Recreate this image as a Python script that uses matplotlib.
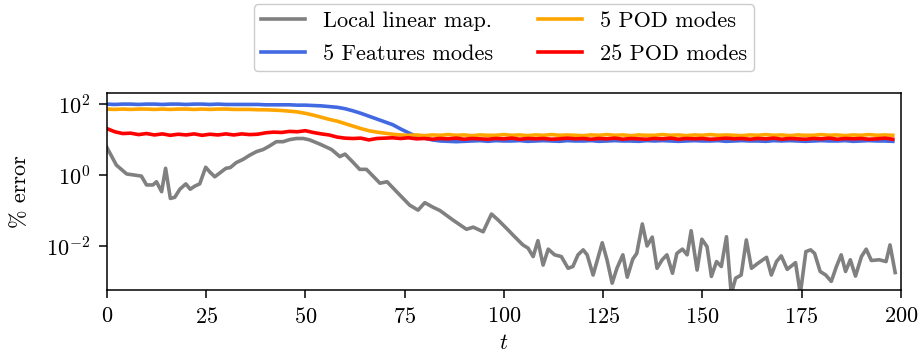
import matplotlib
matplotlib.use('Agg')
import matplotlib.pyplot as plt
import numpy as np

plt.rcParams['font.family'] = 'cmr10'
plt.rcParams['mathtext.fontset'] = 'cm'
plt.rcParams['axes.formatter.use_mathtext'] = True
plt.rcParams['font.size'] = 16
plt.rcParams['axes.linewidth'] = 1.1

#_______________________________________________________________________________
# local linear map as (t, log10 % error)
t_local = [0, 2.4, 5, 8.7, 10, 11.6, 12.5, 13.8, 14.8, 16, 17.1, 18.4, 19.9, 21,
           22.2, 23.4, 24.9, 25.9, 27.2, 28.5, 30, 31.1, 32.6, 34.3, 36, 37.7,
           39.4, 41, 42.7, 44.4, 46.1, 47.8, 49.5, 51.1, 53.7, 56.6, 58.7, 60,
           62.1, 63.7, 65.4, 68.8, 70.6, 73, 76.3, 78.4, 80.1, 82.2, 83.9, 87.2,
           90.6, 92.3, 94.8, 96.9, 98.6, 101.1, 102.3, 104.8, 106.1, 107.4, 108.6,
           109.9, 111.2, 112.8, 114.5, 116.2, 117.4, 118.7, 120, 121, 122.5, 124.8,
           126, 127.3, 128.5, 130, 131.1, 132.5, 133.5, 134.9, 136.1, 137.4, 138.6,
           139.9, 141.1, 142.5, 143.6, 145, 146.2, 147.2, 148.7, 149.9, 151.2,
           152.3, 153.6, 154.8, 156.1, 157.3, 158.4, 159.8, 161.1, 162.4, 164,
           166.2, 167.4, 168.7, 169.9, 171.4, 173.5, 174.7, 176.1, 177.3, 178.3,
           179.7, 181.1, 182.5, 183.8, 185, 186.1, 187.3, 188.6, 190.1, 191.3,
           192.6, 194.6, 196.3, 197.3, 198.6]
local_log = [0.78, 0.28, 0.03, -0.03, -0.28, -0.28, -0.19, -0.47, 0.19, -0.66, -0.63,
             -0.40, -0.25, -0.40, -0.31, -0.25, 0.22, 0.09, -0.05, 0.06, 0.19, 0.21,
             0.35, 0.44, 0.56, 0.66, 0.72, 0.82, 0.94, 0.94, 1.00, 1.03, 1.03, 0.99,
             0.87, 0.72, 0.52, 0.59, 0.35, 0.16, 0.16, -0.23, -0.19, -0.47, -0.85,
             -0.99, -0.78, -0.91, -1.00, -1.27, -1.53, -1.47, -1.60, -1.10, -1.27,
             -1.55, -1.69, -1.97, -2.06, -2.30, -1.85, -2.54, -2.09, -2.25, -2.30,
             -2.63, -2.58, -2.25, -2.11, -2.25, -2.82, -1.91, -2.39, -3.05, -2.63,
             -2.25, -2.88, -2.37, -2.21, -1.38, -2.00, -1.75, -2.63, -2.39, -2.25,
             -2.77, -2.21, -2.09, -2.25, -1.57, -2.68, -1.81, -2.02, -2.86, -2.44,
             -2.58, -1.74, -3.35, -2.91, -2.82, -1.83, -2.63, -2.49, -2.32, -2.82,
             -2.44, -2.28, -2.66, -2.47, -3.35, -2.16, -2.11, -2.21, -2.72, -2.82,
             -3.00, -2.58, -2.25, -2.72, -2.39, -2.85, -2.30, -2.09, -2.41, -2.39,
             -2.44, -1.97, -2.75]

# reduced models, sampled every 2 time units (log10 % error)
t_modes = list(range(0, 200, 2))

features5_log = [2.00, 1.99, 2.00, 2.00, 1.99, 2.00, 2.00, 1.99, 2.00, 2.00, 1.99, 2.00,
                 2.00, 1.99, 2.00, 1.99, 1.99, 1.99, 1.99, 1.99, 1.98, 1.98, 1.98, 1.98,
                 1.97, 1.97,
                 1.96, 1.95, 1.93, 1.91, 1.87, 1.81, 1.74, 1.66, 1.58, 1.50, 1.42, 1.30,
                 1.19, 1.09, 1.04, 0.99, 0.96, 0.95, 0.94, 0.95,
                 0.96, 0.97, 0.95, 0.97, 0.96, 0.96, 0.97, 0.95, 0.96, 0.97, 0.96, 0.95,
                 0.97, 0.96, 0.96, 0.97, 0.95, 0.96, 0.97, 0.96, 0.96, 0.95, 0.97, 0.96,
                 0.97, 0.96, 0.95, 0.96, 0.97, 0.96, 0.96, 0.97, 0.95, 0.96, 0.97, 0.96,
                 0.96, 0.95, 0.97, 0.96, 0.97, 0.96, 0.95, 0.96, 0.97, 0.96, 0.96, 0.97,
                 0.95, 0.96, 0.97, 0.96, 0.96, 0.95]

pod5_log = [1.86, 1.85, 1.86, 1.85, 1.86, 1.86, 1.85, 1.86, 1.85, 1.86, 1.86, 1.85,
            1.86, 1.85, 1.86, 1.86, 1.85, 1.85, 1.85, 1.84, 1.84, 1.83, 1.82,
            1.80, 1.78, 1.74, 1.69, 1.63, 1.57, 1.52, 1.45, 1.38, 1.31, 1.25, 1.21,
            1.18, 1.15, 1.13,
            1.12, 1.13, 1.11, 1.13, 1.12, 1.14, 1.12, 1.13, 1.11, 1.13, 1.12, 1.12,
            1.14, 1.12, 1.13, 1.11, 1.13, 1.12, 1.14, 1.12, 1.13, 1.12, 1.11, 1.13,
            1.12, 1.14, 1.12, 1.13, 1.11, 1.13, 1.12, 1.12, 1.14, 1.12, 1.13, 1.11,
            1.13, 1.12, 1.14, 1.12, 1.13, 1.12, 1.11, 1.13, 1.12, 1.14, 1.12, 1.13,
            1.11, 1.13, 1.12, 1.12, 1.14, 1.12, 1.13, 1.11, 1.13, 1.12, 1.14, 1.12,
            1.13, 1.12]

pod25_log = [1.31, 1.22, 1.17, 1.18, 1.14, 1.17, 1.13, 1.16, 1.12, 1.15, 1.13, 1.16,
             1.12, 1.15, 1.13, 1.16, 1.13, 1.16, 1.14, 1.15, 1.19, 1.21, 1.20, 1.23,
             1.22, 1.25, 1.20, 1.16, 1.13, 1.07, 1.04, 1.03, 1.04, 0.99, 1.03, 1.04,
             1.05, 1.03, 1.05, 1.02,
             1.03, 1.01, 1.03, 1.02, 1.04, 1.01, 1.03, 1.02, 1.01, 1.03, 1.02, 1.04,
             1.01, 1.03, 1.02, 1.03, 1.01, 1.02, 1.04, 1.02, 1.03, 1.01, 1.03, 1.02,
             1.04, 1.01, 1.03, 1.02, 1.01, 1.03, 1.02, 1.04, 1.01, 1.03, 1.02, 1.03,
             1.01, 1.02, 1.04, 1.02, 1.03, 1.01, 1.03, 1.02, 1.04, 1.01, 1.03, 1.02,
             1.01, 1.03, 1.02, 1.04, 1.01, 1.03, 1.02, 1.03, 1.01, 1.02, 1.04, 1.01]

labels = ['Local linear map.', '5 Features modes', '5 POD modes', '25 POD modes']
colors = ['gray', 'royalblue', 'orange', 'red']

#_______________________________________________________________________________
fig = plt.figure(figsize=(9.21, 3.54), dpi=100)
ax = fig.add_axes([0.116, 0.181, 0.862, 0.556])

series = [(t_local, local_log), (t_modes, features5_log),
          (t_modes, pod5_log), (t_modes, pod25_log)]
for (t, logerr), lab, col in zip(series, labels, colors):
    ax.plot(t, 10.0 ** np.array(logerr), color=col, lw=2.6, label=lab)

ax.set_yscale('log')
ax.set_xlim(0, 200)
ax.set_ylim(10 ** -3.24, 10 ** 2.31)
ax.set_yticks([1e-2, 1e0, 1e2])
ax.yaxis.set_minor_locator(matplotlib.ticker.NullLocator())
ax.set_xticks(np.arange(0, 201, 25))
ax.tick_params(which='major', length=6, width=1.1, pad=6)

ax.set_xlabel('$t$', labelpad=5)
ax.set_ylabel('% error', labelpad=11)

ax.legend(loc='lower center', bbox_to_anchor=(0.5, 1.112), ncol=2,
          borderaxespad=0.0, labelspacing=0.6, borderpad=0.32,
          frameon=True, fancybox=True, edgecolor='#cccccc', framealpha=1.0)

fig.savefig('out.png', dpi=100)
